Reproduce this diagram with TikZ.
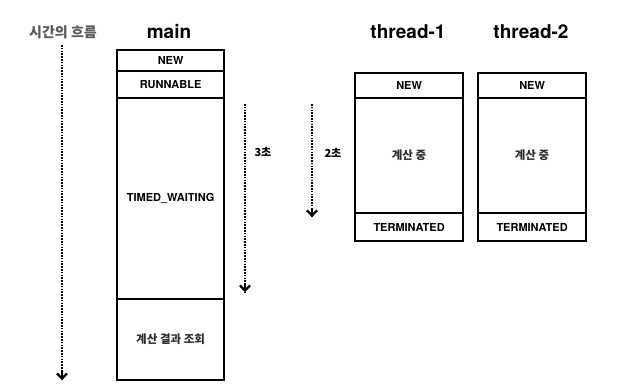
\documentclass[tikz,border=0pt]{standalone}
\usepackage{fontspec}
\setmainfont{TeX Gyre Heros}
\newfontfamily\kr{Noto Sans CJK KR}
\usetikzlibrary{arrows.meta}
\definecolor{flowgray}{HTML}{5A5A5A}
\definecolor{krgray}{HTML}{2E2E2E}
\tikzset{
  statebox/.style={draw=black, line width=2.2pt, rectangle, inner sep=0pt, anchor=north west,
    font=\fontsize{11}{13}\selectfont\bfseries},
  title/.style={font=\fontsize{19}{22}\selectfont\bfseries},
  krbox/.style={font=\kr\fontsize{11.5}{13}\selectfont\bfseries, text=krgray},
  timeline/.style={line width=2.4pt, dash pattern=on 1.5pt off 1.3pt},
  timetip/.style={line width=2.2pt, solid, line join=miter,
    -{Straight Barb[length=5pt,width=10pt,line width=2.2pt]}},
}
\begin{document}
\begin{tikzpicture}[x=1pt,y=-1pt]
\useasboundingbox (0,0) rectangle (619,386);
% titles
\node[font=\kr\fontsize{14}{16}\selectfont\bfseries, text=flowgray] (flow) at (63,32) {시간의 흐름};
\node[title] (tmain) at (169,32) {main};
\node[title] (tt1) at (408,32) {thread-1};
\node[title] (tt2) at (531,32) {thread-2};
% main column
\node[statebox, minimum width=107pt, minimum height=21pt] (mnew) at (116,49) {NEW};
\node[statebox, minimum width=107pt, minimum height=27pt] (mrun) at (116,70) {RUNNABLE};
\node[statebox, minimum width=107pt, minimum height=201pt] (mwait) at (116,97) {TIMED\_WAITING};
\node[statebox, krbox, minimum width=107pt, minimum height=81pt] (mres) at (116,298) {계산 결과 조회};
% thread-1
\node[statebox, minimum width=108pt, minimum height=25pt] (anew) at (354,72) {NEW};
\node[statebox, krbox, minimum width=108pt, minimum height=115pt] (acalc) at (354,97) {계산 중};
\node[statebox, minimum width=108pt, minimum height=28pt] (aterm) at (354,212) {TERMINATED};
% thread-2
\node[statebox, minimum width=108pt, minimum height=25pt] (bnew) at (477,72) {NEW};
\node[statebox, krbox, minimum width=108pt, minimum height=115pt] (bcalc) at (477,97) {계산 중};
\node[statebox, minimum width=108pt, minimum height=28pt] (bterm) at (477,212) {TERMINATED};
% time arrows
\coordinate (f1) at (62,45);
\coordinate (f1b) at (62,371);
\coordinate (f2) at (62,380);
\draw[timeline] (f1) -- (f2);
\draw[timetip] (f1b) -- (f2);
\coordinate (s1) at (245,104);
\coordinate (s1b) at (245,283);
\coordinate (s2) at (245,292);
\draw[timeline] (s1) -- (s2);
\draw[timetip] (s1b) -- (s2);
\node[font=\kr\fontsize{11}{13}\selectfont\bfseries, anchor=west] (l3) at (251,152) {3초};
\coordinate (t1) at (312,104);
\coordinate (t1b) at (312,208);
\coordinate (t2) at (312,217);
\draw[timeline] (t1) -- (t2);
\draw[timetip] (t1b) -- (t2);
\node[font=\kr\fontsize{11}{13}\selectfont\bfseries, anchor=west] (l2) at (321,153) {2초};
\end{tikzpicture}
\end{document}
